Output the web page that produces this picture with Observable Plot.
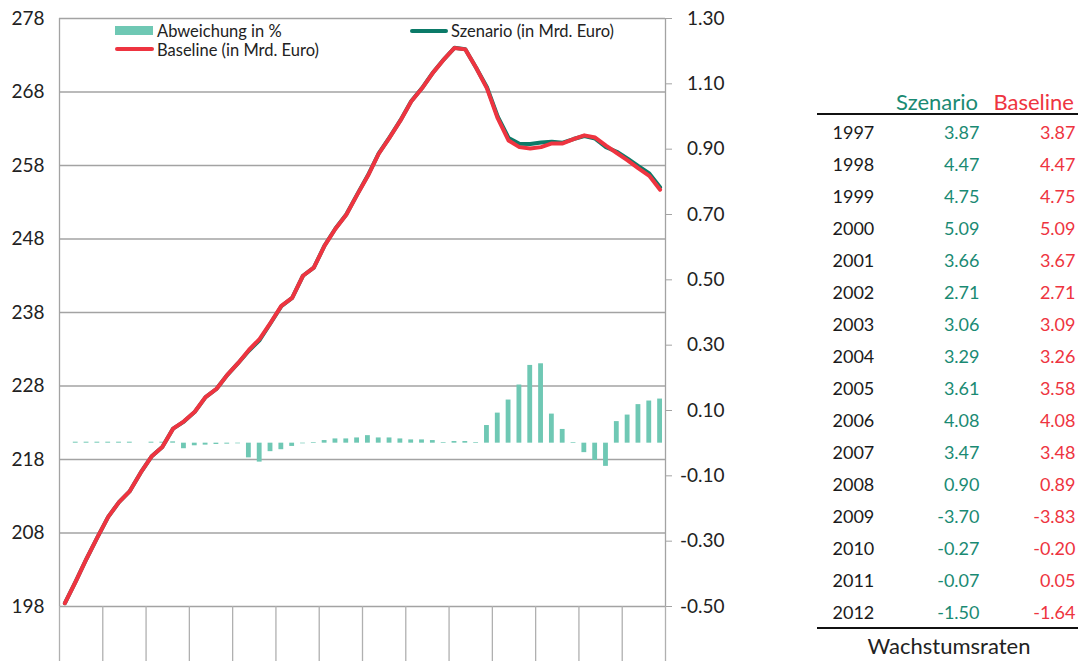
<!DOCTYPE html>
<html><head><meta charset="utf-8">
<script src="https://cdn.jsdelivr.net/npm/d3@7"></script>
<script src="https://cdn.jsdelivr.net/npm/@observablehq/plot@0.6"></script>
<style>
body{margin:0;background:#fff;font-family:Lato,sans-serif;color:#222;}
#wrap{position:relative;width:1081px;height:661px;overflow:hidden;background:#fff;}
#chart,#table{position:absolute;top:0;}
#chart{left:0}
#table{left:810px}
.abs{position:absolute;white-space:nowrap;line-height:1;}
.mid{transform:translateY(-50%);}
</style></head><body>
<div id="wrap">
<div id="chart"></div>
<div id="table"></div>
<div class="abs" style="left:115px;top:26px;width:38px;height:9px;background:#6fc8b4"></div>
<div class="abs mid" style="left:157px;top:31px;font-size:16.5px;">Abweichung in %</div>
<div class="abs" style="left:115px;top:47px;width:39px;height:4px;background:#ee3440;border-radius:2px"></div>
<div class="abs mid" style="left:157px;top:49.5px;font-size:16.5px;">Baseline (in Mrd. Euro)</div>
<div class="abs" style="left:410px;top:29px;width:38px;height:4px;background:#0b7a68;border-radius:2px"></div>
<div class="abs mid" style="left:451px;top:31px;font-size:16.5px;">Szenario (in Mrd. Euro)</div>
<div class="abs mid" style="right:103px;top:102px;font-size:22px;color:#1a8a73;">Szenario</div>
<div class="abs mid" style="right:7px;top:102px;font-size:22px;color:#ee3440;">Baseline</div>
<div class="abs" style="left:817px;top:112.5px;width:261px;height:2px;background:#111"></div>
<div class="abs" style="left:817px;top:626.5px;width:261px;height:2px;background:#111"></div>
<div class="abs mid" style="left:949px;top:646px;font-size:22px;transform:translate(-50%,-50%);">Wachstumsraten</div>
</div>
<script>
// Quarterly values (56 quarters)
const baseline = [198.45, 201.4, 204.5, 207.4, 210.2, 212.2, 213.7, 216.2, 218.4, 219.7, 222.2, 223.2, 224.5, 226.5, 227.6, 229.5, 231.1, 232.9, 234.4, 236.6, 238.9, 240.0, 243.0, 244.1, 247.1, 249.4, 251.3, 254.0, 256.6, 259.6, 261.8, 264.1, 266.7, 268.5, 270.6, 272.4, 274.0, 273.8, 271.3, 268.5, 264.4, 261.4, 260.5, 260.3, 260.5, 261.0, 261.0, 261.6, 262.1, 261.8, 260.7, 259.7, 258.7, 257.6, 256.6, 254.7];
const szenario = [198.45, 201.41, 204.5, 207.41, 210.2, 212.2, 213.7, 216.2, 218.4, 219.7, 222.21, 223.16, 224.48, 226.49, 227.59, 229.49, 231.1, 232.8, 234.26, 236.54, 238.85, 239.98, 243.0, 244.1, 247.12, 249.43, 251.33, 254.04, 256.66, 259.64, 261.84, 264.13, 266.73, 268.53, 270.62, 272.41, 274.01, 273.81, 271.31, 268.64, 264.64, 261.75, 260.96, 260.92, 261.13, 261.23, 261.11, 261.6, 262.02, 261.66, 260.51, 259.87, 258.92, 257.9, 256.93, 255.04];
const abweichung = [0, 0.003, 0.003, 0.003, 0.003, 0.003, 0.003, 0, 0.003, 0.003, 0.004, -0.017, -0.008, -0.006, -0.004, -0.003, -0.002, -0.045, -0.058, -0.026, -0.020, -0.010, -0.002, 0.002, 0.008, 0.013, 0.013, 0.016, 0.023, 0.016, 0.016, 0.013, 0.010, 0.010, 0.008, 0.002, 0.005, 0.005, 0.002, 0.054, 0.092, 0.132, 0.178, 0.238, 0.243, 0.089, 0.042, 0.002, -0.029, -0.053, -0.071, 0.066, 0.086, 0.118, 0.129, 0.135];
// Axis ticks
const leftTicks = [198, 208, 218, 228, 238, 248, 258, 268, 278];
const rightTicks = [-0.5, -0.3, -0.1, 0.1, 0.3, 0.5, 0.7, 0.9, 1.1, 1.3];
const yearBoundaries = [-0.5, 3.5, 7.5, 11.5, 15.5, 19.5, 23.5, 27.5, 31.5, 35.5, 39.5, 43.5, 47.5, 51.5, 55.5];
// Table
const years = [1997, 1998, 1999, 2000, 2001, 2002, 2003, 2004, 2005, 2006, 2007, 2008, 2009, 2010, 2011, 2012];
const rateSzenario = [3.87, 4.47, 4.75, 5.09, 3.66, 2.71, 3.06, 3.29, 3.61, 4.08, 3.47, 0.90, -3.70, -0.27, -0.07, -1.50];
const rateBaseline = [3.87, 4.47, 4.75, 5.09, 3.67, 2.71, 3.09, 3.26, 3.58, 4.08, 3.48, 0.89, -3.83, -0.20, 0.05, -1.64];

const fmt2 = v => (v < 0 ? "-" : "") + Math.abs(v).toFixed(2);
const toLeft = d3.scaleLinear([-0.5, 1.3], [198, 278]);
const data = baseline.map((b, i) => ({i, baseline: b, szenario: szenario[i], dev: abweichung[i]}));

const chart = Plot.plot({
  width: 740, height: 661,
  marginLeft: 59, marginRight: 75, marginTop: 18, marginBottom: 55,
  style: {fontFamily: "Lato, sans-serif", background: "transparent", color: "#222"},
  x: {domain: [-0.5, 55.5], axis: null},
  y: {domain: [198, 278], axis: null},
  marks: [
    Plot.ruleY(leftTicks, {stroke: "#a3a3a3", strokeWidth: 1.3}),
    Plot.ruleX([-0.5, 55.5], {stroke: "#a3a3a3", strokeWidth: 1.3}),
    Plot.axisX(yearBoundaries, {tickSize: 55, tickFormat: () => "", label: null, stroke: "#b0b0b0", strokeWidth: 1.3}),
    Plot.axisY(leftTicks, {anchor: "left", tickSize: 0, tickPadding: 15, fontSize: 19, label: null, tickFormat: d => String(d)}),
    Plot.axisY(rightTicks.map(v => toLeft(v)), {anchor: "right", tickSize: 6, tickPadding: 53, textAnchor: "end", fontSize: 19, label: null, stroke: "#a3a3a3",
      tickFormat: d => fmt2(Math.round(toLeft.invert(d) * 100) / 100)}),
    Plot.rect(data, {x1: d => d.i - 0.5, x2: d => d.i + 0.5, y1: () => toLeft(0), y2: d => toLeft(d.dev), fill: "#6fc8b4", insetLeft: 3, insetRight: 3}),
    Plot.line(data, {x: "i", y: "szenario", stroke: "#0b7a68", strokeWidth: 4}),
    Plot.line(data, {x: "i", y: "baseline", stroke: "#ee3440", strokeWidth: 4})
  ]
});
document.getElementById("chart").append(chart);

const rows = years.map((y, k) => ({year: String(y), s: rateSzenario[k], b: rateBaseline[k]}));
const table = Plot.plot({
  width: 271, height: 661,
  marginLeft: 0, marginRight: 0, marginTop: 0, marginBottom: 0,
  style: {fontFamily: "Lato, sans-serif", background: "transparent"},
  x: {axis: null},
  y: {type: "point", domain: rows.map(r => r.year), range: [132, 614], padding: 0, axis: null},
  marks: [
    Plot.text(rows, {y: "year", text: "year", frameAnchor: "left", textAnchor: "start", dx: 22, fontSize: 18, fill: "#1a1a1a"}),
    Plot.text(rows, {y: "year", text: d => fmt2(d.s), frameAnchor: "right", textAnchor: "end", dx: -102, fontSize: 18, fill: "#1a8a73"}),
    Plot.text(rows, {y: "year", text: d => fmt2(d.b), frameAnchor: "right", textAnchor: "end", dx: -6, fontSize: 18, fill: "#ee3440"})
  ]
});
document.getElementById("table").append(table);
</script>
</body></html>
